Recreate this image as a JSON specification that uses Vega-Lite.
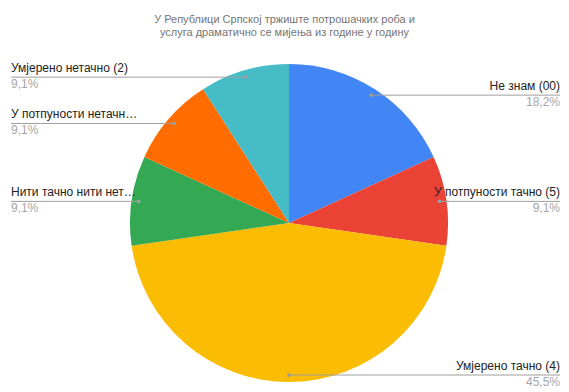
{
  "$schema": "https://vega.github.io/schema/vega-lite/v6.json",
  "width": 569,
  "height": 340,
  "autosize": {"type": "none"},
  "padding": {"top": 53, "left": 0, "right": 0, "bottom": 0},
  "background": "white",
  "config": {"view": {"stroke": null}},
  "title": {
    "text": ["У Републици Српској тржиште потрошачких роба и", "услуга драматично се мијења из године у годину"],
    "fontSize": 11,
    "font": "Liberation Sans",
    "fontWeight": "normal",
    "color": "#757575",
    "anchor": "middle",
    "offset": 15,
    "lineHeight": 13
  },
  "data": {
    "values": [
      {"label": "Не знам (00)", "n": 2, "pct": "18,2%", "order": 1},
      {"label": "У потпуности тачно (5)", "n": 1, "pct": "9,1%", "order": 2},
      {"label": "Умјерено тачно (4)", "n": 5, "pct": "45,5%", "order": 3},
      {"label": "Нити тачно нити нет…", "n": 1, "pct": "9,1%", "order": 4},
      {"label": "У потпуности нетачн…", "n": 1, "pct": "9,1%", "order": 5},
      {"label": "Умјерено нетачно (2)", "n": 1, "pct": "9,1%", "order": 6}
    ]
  },
  "transform": [
    {"joinaggregate": [{"op": "sum", "field": "n", "as": "total"}]},
    {"stack": "n", "groupby": [], "sort": [{"field": "order", "order": "ascending"}], "as": ["s0", "s1"]},
    {"calculate": "PI*(datum.s0+datum.s1)/datum.total", "as": "mid"},
    {"calculate": "152*sin(datum.mid)", "as": "px"},
    {"calculate": "152*cos(datum.mid)", "as": "py"},
    {"calculate": "sin(datum.mid) >= 0 ? 271 : -278", "as": "ex"},
    {"calculate": "sin(datum.mid) >= 0 ? 'right' : 'left'", "as": "side"}
  ],
  "layer": [
    {
      "mark": {"type": "arc", "outerRadius": 159},
      "encoding": {
        "x": {"datum": 0, "type": "quantitative", "scale": {"domain": [-289, 280], "nice": false, "zero": false}, "axis": null},
        "y": {"datum": 0, "type": "quantitative", "scale": {"domain": [-170, 170], "nice": false, "zero": false}, "axis": null},
        "theta": {"field": "n", "type": "quantitative", "stack": true},
        "order": {"field": "order", "type": "quantitative"},
        "color": {
          "field": "label",
          "type": "nominal",
          "scale": {
            "domain": ["Не знам (00)", "У потпуности тачно (5)", "Умјерено тачно (4)", "Нити тачно нити нет…", "У потпуности нетачн…", "Умјерено нетачно (2)"],
            "range": ["#4285F4", "#EA4335", "#FBBC04", "#34A853", "#FF6D01", "#46BDC6"]
          },
          "legend": null
        }
      }
    },
    {
      "mark": {"type": "rule", "color": "#9e9e9e", "strokeWidth": 1},
      "encoding": {
        "x": {"field": "px", "type": "quantitative"},
        "x2": {"field": "ex"},
        "y": {"field": "py", "type": "quantitative"}
      }
    },
    {
      "mark": {"type": "point", "filled": true, "color": "#9e9e9e", "size": 14, "opacity": 1},
      "encoding": {
        "x": {"field": "px", "type": "quantitative"},
        "y": {"field": "py", "type": "quantitative"}
      }
    },
    {
      "transform": [{"filter": "datum.side == 'right'"}],
      "mark": {"type": "text", "align": "right", "baseline": "bottom", "dy": -2, "font": "Liberation Sans", "fontSize": 12, "color": "#222222"},
      "encoding": {
        "x": {"field": "ex", "type": "quantitative"},
        "y": {"field": "py", "type": "quantitative"},
        "text": {"field": "label"}
      }
    },
    {
      "transform": [{"filter": "datum.side == 'right'"}],
      "mark": {"type": "text", "align": "right", "baseline": "top", "dy": 2, "font": "Liberation Sans", "fontSize": 12, "color": "#a6a6a6"},
      "encoding": {
        "x": {"field": "ex", "type": "quantitative"},
        "y": {"field": "py", "type": "quantitative"},
        "text": {"field": "pct"}
      }
    },
    {
      "transform": [{"filter": "datum.side == 'left'"}],
      "mark": {"type": "text", "align": "left", "baseline": "bottom", "dy": -2, "font": "Liberation Sans", "fontSize": 12, "color": "#222222"},
      "encoding": {
        "x": {"field": "ex", "type": "quantitative"},
        "y": {"field": "py", "type": "quantitative"},
        "text": {"field": "label"}
      }
    },
    {
      "transform": [{"filter": "datum.side == 'left'"}],
      "mark": {"type": "text", "align": "left", "baseline": "top", "dy": 2, "font": "Liberation Sans", "fontSize": 12, "color": "#a6a6a6"},
      "encoding": {
        "x": {"field": "ex", "type": "quantitative"},
        "y": {"field": "py", "type": "quantitative"},
        "text": {"field": "pct"}
      }
    }
  ]
}
